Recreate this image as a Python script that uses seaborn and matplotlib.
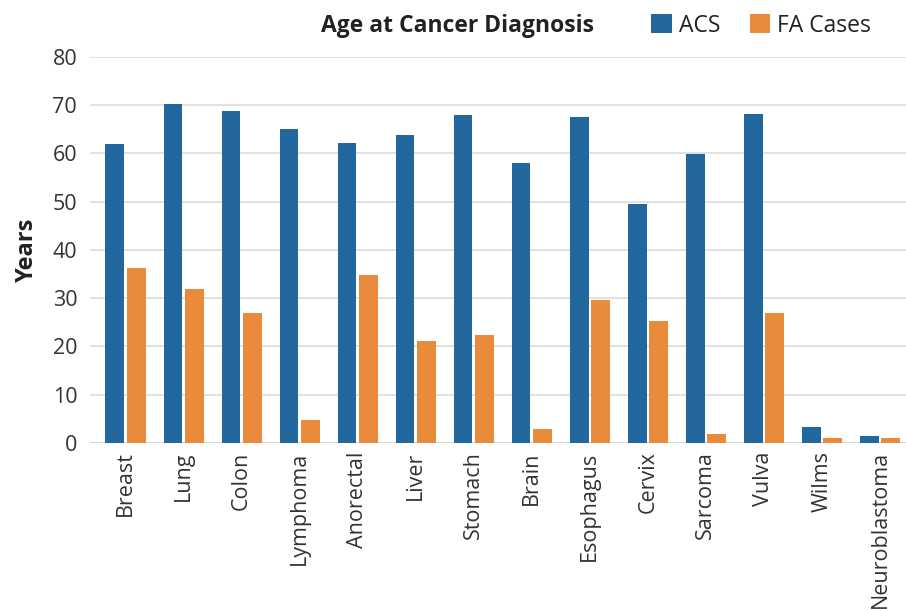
import matplotlib
matplotlib.use("Agg")
import numpy as np
import pandas as pd
import matplotlib.pyplot as plt
import seaborn as sns

# values (years)
cancers = ["Breast", "Lung", "Colon", "Lymphoma", "Anorectal", "Liver", "Stomach",
           "Brain", "Esophagus", "Cervix", "Sarcoma", "Vulva", "Wilms", "Neuroblastoma"]
acsAge = [62.0, 70.3, 68.8, 65.0, 62.1, 63.9, 68.0, 57.9, 67.6, 49.5, 59.9, 68.1, 3.4, 1.4]
faAge = [36.3, 32.0, 26.9, 4.7, 34.8, 21.1, 22.3, 2.8, 29.7, 25.2, 1.9, 27.0, 1.0, 1.1]
groups = ["ACS", "FA Cases"]
colors = ["#23679f", "#e98b3b"]

df = pd.DataFrame({
    "cancer": cancers * 2,
    "years": acsAge + faAge,
    "group": [groups[0]] * len(cancers) + [groups[1]] * len(cancers),
})

sns.set_style("white")
plt.rcParams['font.family'] = ['Open Sans', 'DejaVu Sans']

fig = plt.figure(figsize=(9.06, 6.11), dpi=100)
ax = fig.add_axes([0.099, 0.275, 0.901, 0.632])

sns.barplot(data=df, x="cancer", y="years", hue="group", order=cancers,
            hue_order=groups, palette=colors, width=0.74, gap=0.12,
            saturation=1, linewidth=0, ax=ax, legend=True)

ax.set_ylim(0, 80)
ax.set_yticks(np.arange(0, 81, 10))
ax.set_xlim(-0.62, 13.45)
ax.yaxis.grid(True, color="#d9d9d9", linewidth=1.1)
ax.set_axisbelow(True)
sns.despine(ax=ax, left=True, right=True, top=True, bottom=True)
ax.axhline(0, color="#c8c8c8", linewidth=1.3, zorder=0.5)
ax.tick_params(axis="both", length=0, labelsize=15.5, colors="#333333")
ax.tick_params(axis="x", rotation=90, pad=6)
ax.tick_params(axis="y", pad=9)
ax.set_xlabel("")
ax.set_ylabel("Years", fontsize=17, fontweight="bold", color="#222222", labelpad=10)

fig.text(0.505, 0.958, "Age at Cancer Diagnosis", ha="center", va="center",
         fontsize=16.5, fontweight="bold", color="#222222")
leg = ax.legend(loc="center left", bbox_to_anchor=(0.696, 0.958),
                bbox_transform=fig.transFigure, ncol=2, frameon=False,
                fontsize=16.5, handlelength=0.9, handleheight=0.9,
                handletextpad=0.3, columnspacing=1.3)
for t in leg.get_texts():
    t.set_color("#222222")

fig.savefig("out.png", dpi=100)
